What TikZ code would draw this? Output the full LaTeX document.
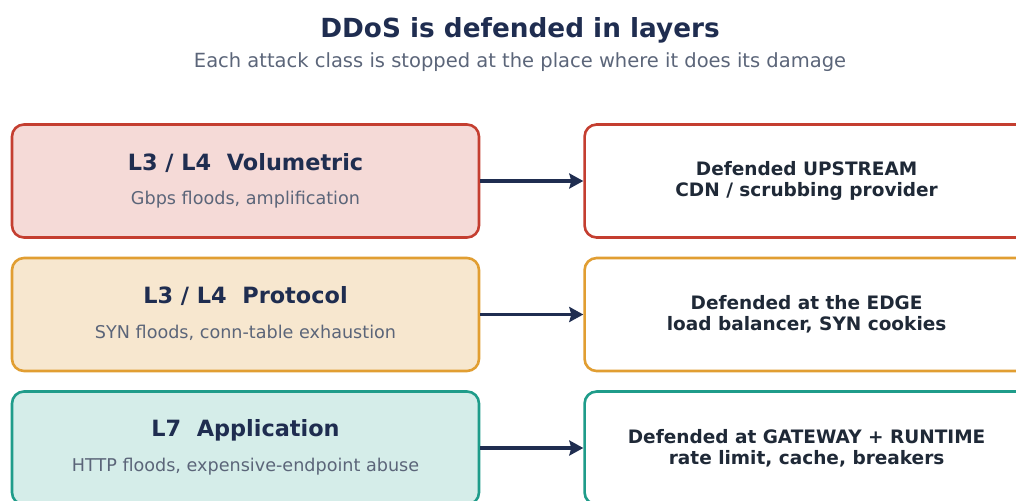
\documentclass[tikz,border=0pt]{standalone}
\usepackage{fontspec}
\setmainfont{DejaVu Sans}
\usetikzlibrary{positioning, arrows.meta}

\definecolor{navy}{HTML}{1F2D50}
\definecolor{slate}{HTML}{5B6579}
\definecolor{ink}{HTML}{1F2937}
\definecolor{volline}{HTML}{C43E30}
\definecolor{volfill}{HTML}{F5DAD7}
\definecolor{protline}{HTML}{E19E32}
\definecolor{protfill}{HTML}{F7E7CF}
\definecolor{appline}{HTML}{1F9C8A}
\definecolor{appfill}{HTML}{D5EDE9}

\tikzset{
  attack/.style={rounded corners=12pt, line width=2.6pt, minimum width=467pt, minimum height=113pt, inner sep=0pt},
  defence/.style={attack, fill=white, minimum width=444pt, font=\bfseries\fontsize{18.5}{21}\selectfont, text=ink, align=center},
  heading/.style={font=\bfseries\fontsize{22.4}{26}\selectfont, text=navy},
  detail/.style={font=\fontsize{17.6}{21}\selectfont, text=slate},
  flow/.style={-{Stealth[length=14pt,width=15pt,inset=2pt]}, line width=3.4pt, draw=navy}
}

\begin{document}
\begin{tikzpicture}[x=1pt,y=-1pt]
\useasboundingbox (0,0) rectangle (1016,500);
\clip (0,0) rectangle (1016,500);

% title
\node[font=\bfseries\fontsize{26.3}{31}\selectfont, text=navy] (title) at (520,30) {DDoS is defended in layers};
\node[font=\fontsize{19.5}{23}\selectfont, text=slate] (subtitle) at (520,62) {Each attack class is stopped at the place where it does its damage};

% attack classes
\node[attack, draw=volline, fill=volfill] (vol) at (245.5,181) {};
\node[attack, draw=protline, fill=protfill] (prot) at (245.5,314.5) {};
\node[attack, draw=appline, fill=appfill] (app) at (245.5,448) {};

\node[heading] (volhead) at ([yshift=18pt]vol.center) {L3 / L4\ \ Volumetric};
\node[detail] (voldet) at ([yshift=-18.5pt]vol.center) {Gbps floods, amplification};
\node[heading] (prothead) at ([yshift=18pt]prot.center) {L3 / L4\ \ Protocol};
\node[detail] (protdet) at ([yshift=-18.5pt]prot.center) {SYN floods, conn-table exhaustion};
\node[heading] (apphead) at ([yshift=18pt]app.center) {L7\ \ Application};
\node[detail] (appdet) at ([yshift=-18.5pt]app.center) {HTTP floods, expensive-endpoint abuse};

% where each one is stopped
\node[defence, draw=volline, right=103pt of vol] (up) {Defended UPSTREAM\\CDN / scrubbing provider};
\node[defence, draw=protline, right=103pt of prot] (edge) {Defended at the EDGE\\load balancer, SYN cookies};
\node[defence, draw=appline, right=103pt of app] (gw) {Defended at GATEWAY + RUNTIME\\rate limit, cache, breakers};

\draw[flow] (vol) -- (up);
\draw[flow] (prot) -- (edge);
\draw[flow] (app) -- (gw);
\end{tikzpicture}
\end{document}
